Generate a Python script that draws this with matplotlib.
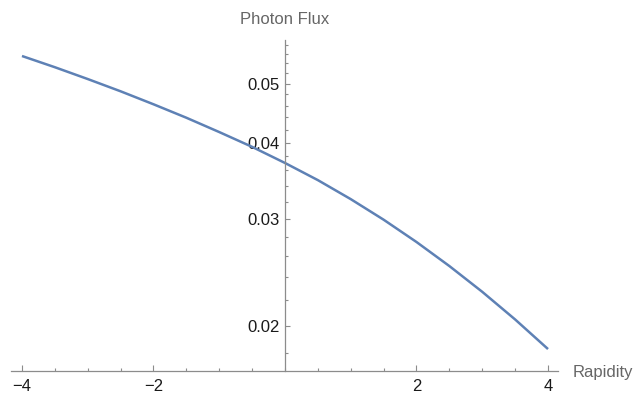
import matplotlib.pyplot as plt
from matplotlib.ticker import FixedLocator, FixedFormatter, MultipleLocator, NullFormatter

# values
rapidity = [-4.0, -3.5, -3.0, -2.5, -2.0, -1.5, -1.0, -0.5, 0.0,
            0.5, 1.0, 1.5, 2.0, 2.5, 3.0, 3.5, 4.0]
flux = [0.05553, 0.05322, 0.05089, 0.04858, 0.04625, 0.04395, 0.04163, 0.03936, 0.03703,
        0.03470, 0.03229, 0.02987, 0.02745, 0.02506, 0.02273, 0.02047, 0.01830]

x_ticks = [-4, -2, 2, 4]
x_labels = ["\u22124", "\u22122", "2", "4"]
y_ticks = [0.02, 0.03, 0.04, 0.05]
y_labels = ["0.02", "0.03", "0.04", "0.05"]

plt.rcParams['font.family'] = ['Liberation Sans', 'DejaVu Sans']
axis_col = "#8c8c8c"

fig = plt.figure(figsize=(6.37, 3.94), dpi=100)
ax = fig.add_axes([11/637, 1 - 371/394, (558 - 11)/637, (371 - 40)/394])

ax.plot(rapidity, flux, color="#5e81b5", lw=1.8, solid_capstyle="butt",
        solid_joinstyle="round")

ax.set_yscale("log")
ax.set_xlim(-4.167, 4.152)
ax.set_ylim(0.01684, 0.0590)

ax.spines["top"].set_visible(False)
ax.spines["right"].set_visible(False)
ax.spines["left"].set_position(("data", 0))
for s in ("left", "bottom"):
    ax.spines[s].set_color(axis_col)
    ax.spines[s].set_linewidth(0.9)

ax.xaxis.set_major_locator(FixedLocator(x_ticks))
ax.xaxis.set_major_formatter(FixedFormatter(x_labels))
ax.xaxis.set_minor_locator(MultipleLocator(0.5))
ax.yaxis.set_major_locator(FixedLocator(y_ticks))
ax.yaxis.set_major_formatter(FixedFormatter(y_labels))
ax.yaxis.set_minor_locator(MultipleLocator(0.002))
ax.yaxis.set_minor_formatter(NullFormatter())

ax.tick_params(which="both", direction="in", color=axis_col, width=0.8,
               labelsize=12, labelcolor="#1a1a1a")
ax.tick_params(axis="x", which="major", length=4.5, pad=6)
ax.tick_params(axis="x", which="minor", length=2.5)
ax.tick_params(axis="y", which="major", length=3.5, pad=4)
ax.tick_params(axis="y", which="minor", length=2.2)

fig.text(573/637, 1 - 372/394, "Rapidity", fontsize=12, color="#666666",
         ha="left", va="center")
fig.text(285/637, 1 - 19/394, "Photon Flux", fontsize=12, color="#666666",
         ha="center", va="center")

fig.savefig("out.png", dpi=100)
